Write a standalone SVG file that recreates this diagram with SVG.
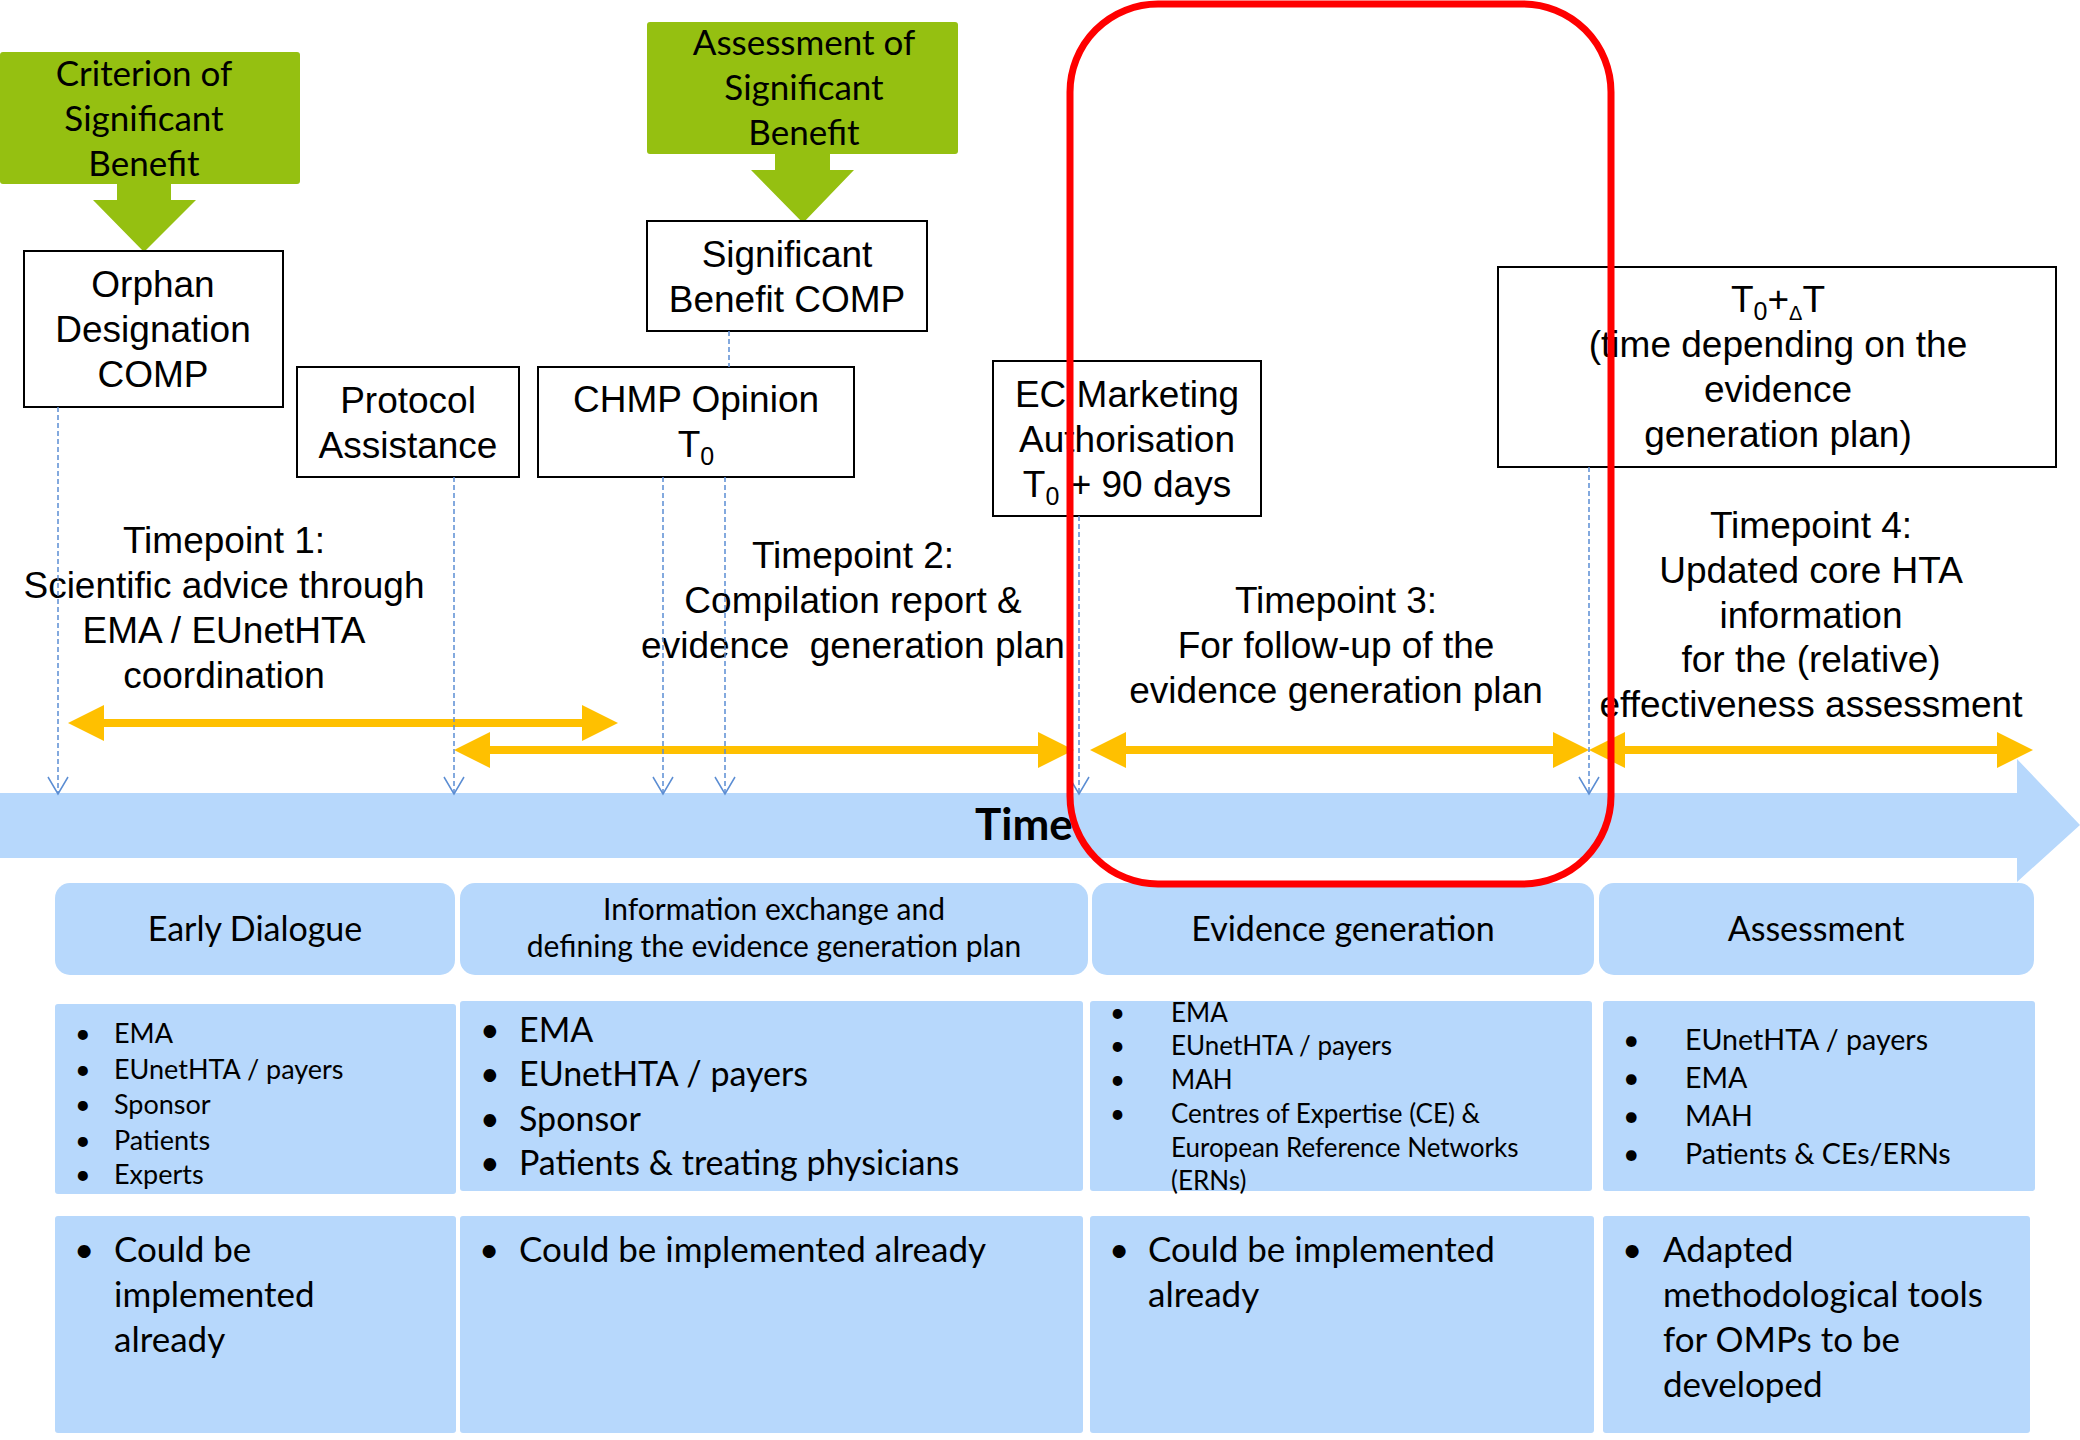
<svg xmlns="http://www.w3.org/2000/svg" width="2080" height="1440" viewBox="0 0 2080 1440">
  <defs>
    <style>
      .box{fill:#ffffff;stroke:#000000;stroke-width:2}
      .green{fill:#95C011}
      .blue{fill:#B7D8FC}
      .yellow{fill:#FFC000}
      .ar{font-family:"Liberation Sans",Arial,sans-serif;font-size:37px;fill:#000;text-anchor:middle}
      .cal{font-family:Lato,"Open Sans",sans-serif;fill:#000}
      .mid{text-anchor:middle}
      .dash{stroke:#5B8DD3;stroke-width:1.5;stroke-dasharray:5 3;fill:none}
      .sub{font-size:25px}
    </style>
    <marker id="vtip" markerUnits="userSpaceOnUse" markerWidth="40" markerHeight="40" refX="0" refY="0" orient="auto" overflow="visible">
      <path d="M-17,-10 L0,0 L-17,10" fill="none" stroke="#5B8DD3" stroke-width="1.5"/>
    </marker>
  </defs>

  <rect width="2080" height="1440" fill="#ffffff"/>

  <!-- time axis -->
  <g id="time-axis">
    <polygon class="blue" points="0,793 2017,793 2017,759 2080,825 2017,882 2017,858 0,858"/>
    <text class="cal" x="975" y="840" font-size="44" font-weight="bold">Time</text>
  </g>

  <!-- green criterion boxes with their down arrows -->
  <g id="criterion-sb">
    <rect class="green" x="0" y="52" width="300" height="132" rx="3"/>
    <polygon class="green" points="117,182 171,182 171,200 196,200 144,252 93,200 117,200"/>
    <text class="cal mid" font-size="35" x="144"><tspan x="144" y="86">Criterion of</tspan><tspan x="144" y="131">Significant</tspan><tspan x="144" y="176">Benefit</tspan></text>
  </g>
  <g id="assessment-sb">
    <rect class="green" x="647" y="22" width="311" height="132" rx="3"/>
    <polygon class="green" points="775,152 830,152 830,170 854,170 803,223 751,170 775,170"/>
    <text class="cal mid" font-size="35"><tspan x="804" y="55">Assessment of</tspan><tspan x="804" y="100">Significant</tspan><tspan x="804" y="145">Benefit</tspan></text>
  </g>

  <!-- milestone boxes -->
  <g id="orphan-designation">
    <rect class="box" x="24" y="251" width="259" height="156"/>
    <text class="ar"><tspan x="153" y="297">Orphan</tspan><tspan x="153" y="342">Designation</tspan><tspan x="153" y="387">COMP</tspan></text>
  </g>
  <g id="protocol-assistance">
    <rect class="box" x="297" y="367" width="222" height="110"/>
    <text class="ar"><tspan x="408" y="413">Protocol</tspan><tspan x="408" y="458">Assistance</tspan></text>
  </g>
  <g id="significant-benefit-comp">
    <rect class="box" x="647" y="221" width="280" height="110"/>
    <text class="ar"><tspan x="787" y="267">Significant</tspan><tspan x="787" y="312">Benefit COMP</tspan></text>
  </g>
  <g id="chmp-opinion">
    <rect class="box" x="538" y="367" width="316" height="110"/>
    <text class="ar"><tspan x="696" y="412">CHMP Opinion</tspan></text>
    <text class="ar" x="696" y="457">T<tspan class="sub" dy="8">0</tspan></text>
  </g>
  <g id="ec-marketing-authorisation">
    <rect class="box" x="993" y="361" width="268" height="155"/>
    <text class="ar"><tspan x="1127" y="407">EC Marketing</tspan><tspan x="1127" y="452">Authorisation</tspan></text>
    <text class="ar" x="1127" y="497">T<tspan class="sub" dy="8">0</tspan><tspan dy="-8"> + 90 days</tspan></text>
  </g>
  <g id="t0-delta-t">
    <rect class="box" x="1498" y="267" width="558" height="200"/>
    <text class="ar" x="1778" y="312">T<tspan class="sub" dy="8">0</tspan><tspan dy="-8">+</tspan><tspan font-size="20" dy="8">Δ</tspan><tspan dy="-8">T</tspan></text>
    <text class="ar"><tspan x="1778" y="357">(time depending on the</tspan><tspan x="1778" y="402">evidence</tspan><tspan x="1778" y="447">generation plan)</tspan></text>
  </g>

  <!-- timepoint captions -->
  <g id="timepoint-1">
    <text class="ar"><tspan x="224" y="553">Timepoint 1:</tspan><tspan x="224" y="598">Scientific advice through</tspan><tspan x="224" y="643">EMA / EUnetHTA</tspan><tspan x="224" y="688">coordination</tspan></text>
  </g>
  <g id="timepoint-2">
    <text class="ar"><tspan x="853" y="568">Timepoint 2:</tspan><tspan x="853" y="613">Compilation report &amp;</tspan><tspan x="853" y="658" xml:space="preserve">evidence  generation plan</tspan></text>
  </g>
  <g id="timepoint-3">
    <text class="ar"><tspan x="1336" y="613">Timepoint 3:</tspan><tspan x="1336" y="658">For follow-up of the</tspan><tspan x="1336" y="703">evidence generation plan</tspan></text>
  </g>
  <g id="timepoint-4">
    <text class="ar"><tspan x="1811" y="538">Timepoint 4:</tspan><tspan x="1811" y="583">Updated core HTA</tspan><tspan x="1811" y="628">information</tspan><tspan x="1811" y="672">for the (relative)</tspan><tspan x="1811" y="717">effectiveness assessment</tspan></text>
  </g>

  <!-- period spans and milestone drop lines -->
  <g id="connectors">
    <polygon class="yellow" points="68,723 104,705 104,719 582,719 582,705 618,723 582,741 582,727 104,727 104,741"/>
    <polygon class="yellow" points="454,750 490,732 490,746 1038,746 1038,732 1074,750 1038,768 1038,754 490,754 490,768"/>
    <polygon class="yellow" points="1090,750 1126,732 1126,746 1553,746 1553,732 1589,750 1553,768 1553,754 1126,754 1126,768"/>
    <polygon class="yellow" points="1589,750 1625,732 1625,746 1997,746 1997,732 2033,750 1997,768 1997,754 1625,754 1625,768"/>
    <line class="dash" x1="729" y1="331" x2="729" y2="367"/>
    <line class="dash" x1="58" y1="407" x2="58" y2="794" marker-end="url(#vtip)"/>
    <line class="dash" x1="454" y1="477" x2="454" y2="794" marker-end="url(#vtip)"/>
    <line class="dash" x1="663" y1="477" x2="663" y2="794" marker-end="url(#vtip)"/>
    <line class="dash" x1="725" y1="477" x2="725" y2="794" marker-end="url(#vtip)"/>
    <line class="dash" x1="1079" y1="516" x2="1079" y2="794" marker-end="url(#vtip)"/>
    <line class="dash" x1="1589" y1="467" x2="1589" y2="794" marker-end="url(#vtip)"/>
  </g>

  <!-- phase headers -->
  <g id="phase-early-dialogue">
    <rect class="blue" x="55" y="883" width="400" height="92" rx="15"/>
    <text class="cal mid" font-size="34" x="255" y="941">Early Dialogue</text>
  </g>
  <g id="phase-information-exchange">
    <rect class="blue" x="460" y="883" width="628" height="92" rx="15"/>
    <text class="cal mid" font-size="30"><tspan x="774" y="920">Information exchange and</tspan><tspan x="774" y="957">defining the evidence generation plan</tspan></text>
  </g>
  <g id="phase-evidence-generation">
    <rect class="blue" x="1092" y="883" width="502" height="92" rx="15"/>
    <text class="cal mid" font-size="34" x="1343" y="941">Evidence generation</text>
  </g>
  <g id="phase-assessment">
    <rect class="blue" x="1599" y="883" width="435" height="92" rx="15"/>
    <text class="cal mid" font-size="34" x="1816" y="941">Assessment</text>
  </g>

  <!-- stakeholders per phase -->
  <g id="stakeholders-early">
    <rect class="blue" x="55" y="1004" width="401" height="190" rx="3"/>
    <text class="cal" font-size="27">
      <tspan x="75" y="1043">•</tspan><tspan x="114" y="1043">EMA</tspan>
      <tspan x="75" y="1079">•</tspan><tspan x="114" y="1079">EUnetHTA / payers</tspan>
      <tspan x="75" y="1114">•</tspan><tspan x="114" y="1114">Sponsor</tspan>
      <tspan x="75" y="1150">•</tspan><tspan x="114" y="1150">Patients</tspan>
      <tspan x="75" y="1184">•</tspan><tspan x="114" y="1184">Experts</tspan>
    </text>
  </g>
  <g id="stakeholders-information">
    <rect class="blue" x="460" y="1001" width="623" height="190" rx="3"/>
    <text class="cal" font-size="34">
      <tspan x="480" y="1042">•</tspan><tspan x="519" y="1042">EMA</tspan>
      <tspan x="480" y="1086">•</tspan><tspan x="519" y="1086">EUnetHTA / payers</tspan>
      <tspan x="480" y="1131">•</tspan><tspan x="519" y="1131">Sponsor</tspan>
      <tspan x="480" y="1175">•</tspan><tspan x="519" y="1175">Patients &amp; treating physicians</tspan>
    </text>
  </g>
  <g id="stakeholders-evidence">
    <rect class="blue" x="1090" y="1001" width="502" height="190" rx="3"/>
    <text class="cal" font-size="26">
      <tspan x="1110" y="1022">•</tspan><tspan x="1171" y="1022">EMA</tspan>
      <tspan x="1110" y="1055">•</tspan><tspan x="1171" y="1055">EUnetHTA / payers</tspan>
      <tspan x="1110" y="1089">•</tspan><tspan x="1171" y="1089">MAH</tspan>
      <tspan x="1110" y="1123">•</tspan><tspan x="1171" y="1123">Centres of Expertise (CE) &amp;</tspan>
      <tspan x="1171" y="1157">European Reference Networks</tspan>
      <tspan x="1171" y="1190">(ERNs)</tspan>
    </text>
  </g>
  <g id="stakeholders-assessment">
    <rect class="blue" x="1603" y="1001" width="432" height="190" rx="3"/>
    <text class="cal" font-size="28.6">
      <tspan x="1623" y="1050">•</tspan><tspan x="1685" y="1050">EUnetHTA / payers</tspan>
      <tspan x="1623" y="1088">•</tspan><tspan x="1685" y="1088">EMA</tspan>
      <tspan x="1623" y="1126">•</tspan><tspan x="1685" y="1126">MAH</tspan>
      <tspan x="1623" y="1164">•</tspan><tspan x="1685" y="1164">Patients &amp; CEs/ERNs</tspan>
    </text>
  </g>

  <!-- implementation status per phase -->
  <g id="status-early">
    <rect class="blue" x="55" y="1216" width="401" height="217" rx="3"/>
    <text class="cal" font-size="35">
      <tspan x="74" y="1262">•</tspan><tspan x="114" y="1262">Could be</tspan>
      <tspan x="114" y="1307">implemented</tspan>
      <tspan x="114" y="1352">already</tspan>
    </text>
  </g>
  <g id="status-information">
    <rect class="blue" x="460" y="1216" width="623" height="217" rx="3"/>
    <text class="cal" font-size="35">
      <tspan x="479" y="1262">•</tspan><tspan x="519" y="1262">Could be implemented already</tspan>
    </text>
  </g>
  <g id="status-evidence">
    <rect class="blue" x="1090" y="1216" width="504" height="217" rx="3"/>
    <text class="cal" font-size="35">
      <tspan x="1109" y="1262">•</tspan><tspan x="1148" y="1262">Could be implemented</tspan>
      <tspan x="1148" y="1307">already</tspan>
    </text>
  </g>
  <g id="status-assessment">
    <rect class="blue" x="1603" y="1216" width="427" height="217" rx="3"/>
    <text class="cal" font-size="35">
      <tspan x="1622" y="1262">•</tspan><tspan x="1663" y="1262">Adapted</tspan>
      <tspan x="1663" y="1307">methodological tools</tspan>
      <tspan x="1663" y="1352">for OMPs to be</tspan>
      <tspan x="1663" y="1397">developed</tspan>
    </text>
  </g>

  <!-- highlight frame around the evidence generation period -->
  <g id="highlight">
    <rect x="1070" y="4" width="541" height="880" rx="88" ry="88" fill="none" stroke="#FF0000" stroke-width="7"/>
  </g>
</svg>
